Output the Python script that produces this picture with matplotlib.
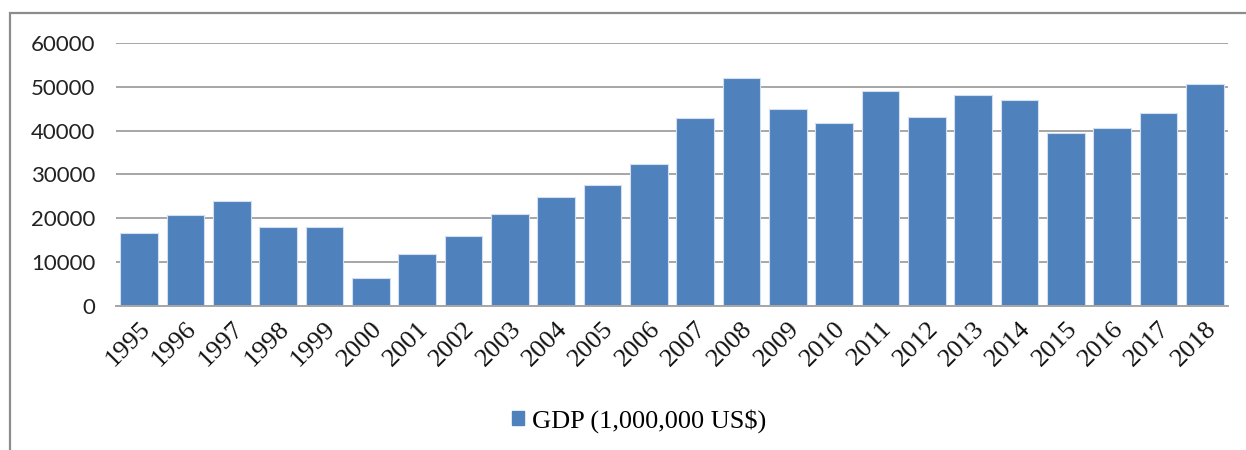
import matplotlib
matplotlib.use("Agg")
import matplotlib.pyplot as plt
from matplotlib.patches import Patch, Rectangle

# GDP by year, million US$
years = ["1995", "1996", "1997", "1998", "1999", "2000", "2001", "2002",
         "2003", "2004", "2005", "2006", "2007", "2008", "2009", "2010",
         "2011", "2012", "2013", "2014", "2015", "2016", "2017", "2018"]
gdp = [16700, 20700, 23900, 18100, 18100, 6450, 12000, 16100,
       21000, 24800, 27500, 32400, 42900, 51900, 44900, 41700,
       49000, 43200, 48200, 47000, 39400, 40500, 44100, 50500]
y_ticks = [0, 10000, 20000, 30000, 40000, 50000, 60000]
series_label = "GDP (1,000,000 US$)"

W, H = 1246, 450
fig = plt.figure(figsize=(W / 100, H / 100), dpi=100)
fig.patch.set_facecolor("white")

# outer chart frame (runs off the right and bottom edges)
fig.patches.append(Rectangle((10 / W, -0.1), 1.2, 1 - 13 / H + 0.1,
                             transform=fig.transFigure, fill=False,
                             edgecolor="#8c8c8c", linewidth=1.6))

ax = fig.add_axes([116 / W, (H - 306.3) / H, 1112 / W, 263.6 / H])
x = range(len(years))
ax.bar(x, gdp, width=0.81, color="#4F81BD", edgecolor="#d3deef",
       linewidth=0.8, zorder=3)

ax.set_xlim(-0.5, len(years) - 0.5)
ax.set_ylim(0, 60000)
ax.set_yticks(y_ticks)
ax.set_yticklabels([str(v) for v in y_ticks], fontfamily="Lato",
                   fontsize=16, color="#222222")
ax.set_xticks(list(x))
ax.set_xticklabels(years, rotation=45, ha="right", va="top",
                   rotation_mode="anchor", fontfamily="Liberation Serif",
                   fontsize=19, color="#111111")
ax.tick_params(axis="y", length=0, pad=15)
ax.tick_params(axis="x", length=0, pad=8)

ax.grid(axis="y", color="#a6a6a6", linewidth=1.4, zorder=0)
for side in ("top", "right", "left"):
    ax.spines[side].set_visible(False)
ax.spines["bottom"].set_color("#a6a6a6")
ax.spines["bottom"].set_linewidth(1.4)
ax.spines["bottom"].set_zorder(4)

handle = Patch(facecolor="#4F81BD", edgecolor="#4F81BD")
fig.legend([handle], [series_label], loc="center",
           bbox_to_anchor=(639 / W, 1 - 421 / H), frameon=False,
           prop={"family": "Liberation Serif", "size": 19},
           handlelength=0.45, handleheight=0.45, handletextpad=0.3)

fig.savefig("out.png", dpi=100, facecolor="white")
